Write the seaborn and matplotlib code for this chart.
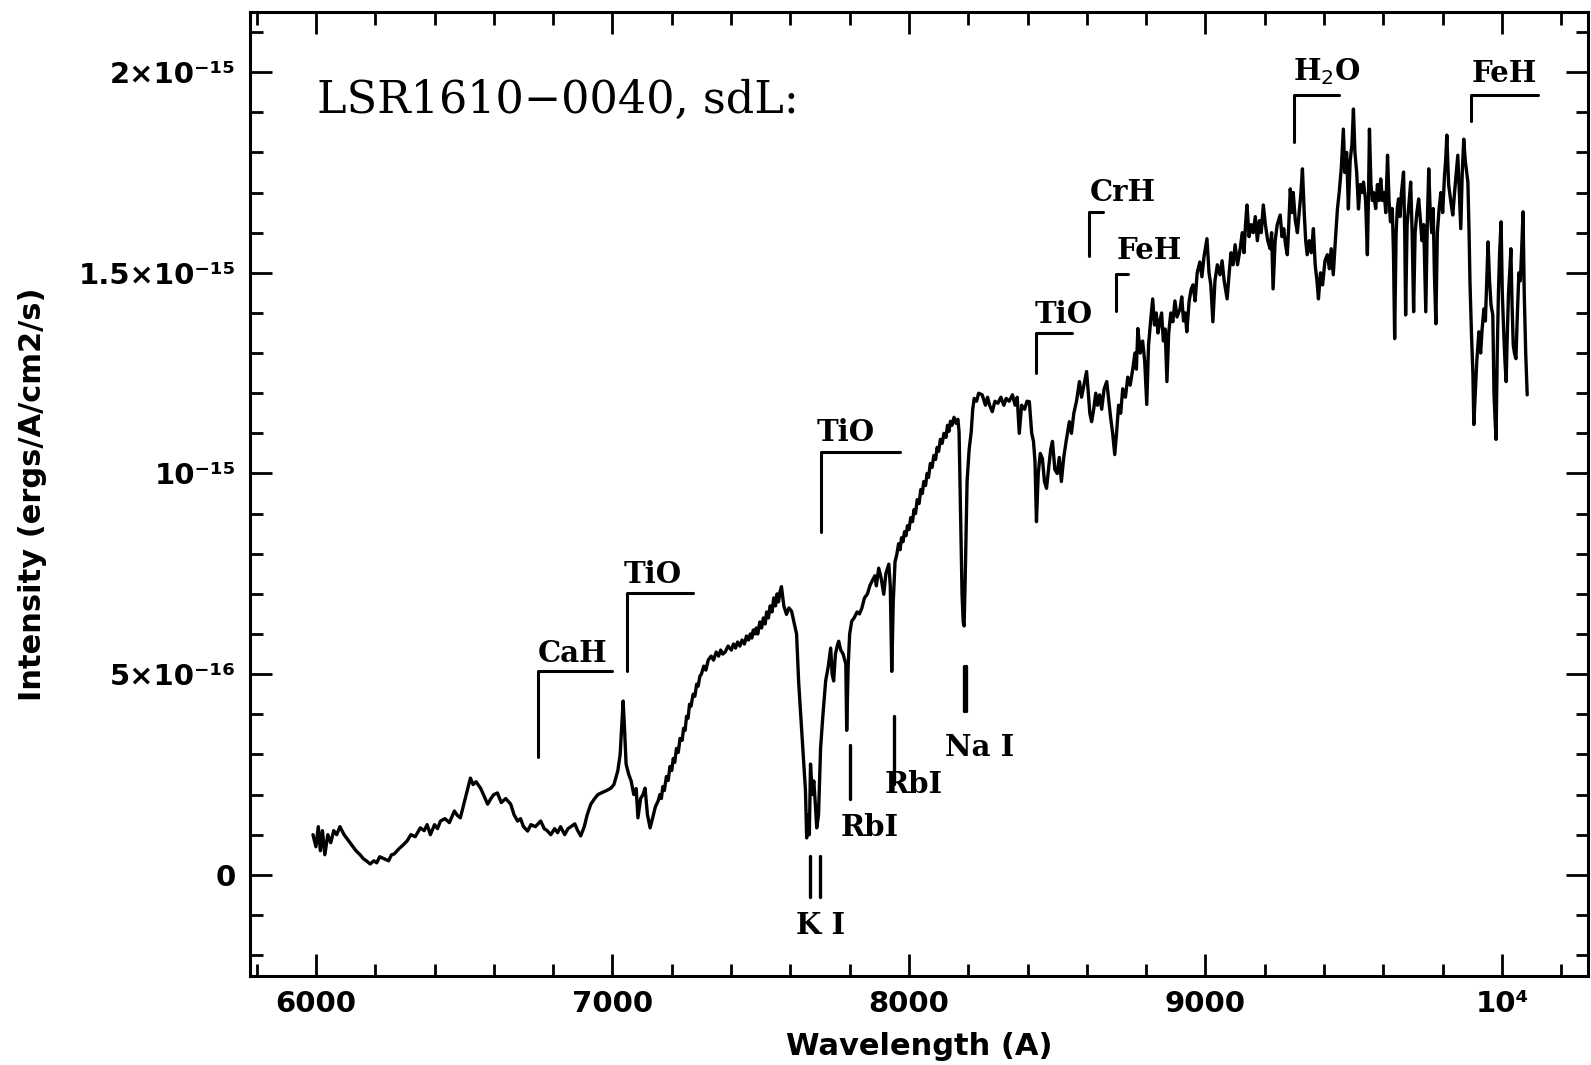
import matplotlib
matplotlib.use("Agg")
import matplotlib.pyplot as plt
import numpy as np
import pandas as pd
import seaborn as sns

# spectrum, flux in units of 1e-15 ergs/A/cm2/s
# blue end, 5990-7150 A
wl_a = [
    5990, 6000, 6008, 6015, 6022, 6030, 6040, 6050, 6060, 6070,
    6081, 6095, 6105, 6115, 6125, 6135, 6149, 6160, 6170, 6183,
    6195, 6205, 6215, 6230, 6245, 6255, 6264, 6280, 6295, 6308,
    6320, 6335, 6352, 6365, 6375, 6386, 6400, 6410, 6420, 6435,
    6450, 6467, 6477, 6487, 6500, 6510, 6521, 6530, 6540, 6555,
    6565, 6579, 6590, 6600, 6612, 6625, 6640, 6657, 6668, 6680,
    6690, 6700, 6714, 6725, 6740, 6758, 6770, 6780, 6792, 6805,
    6815, 6825, 6839, 6850, 6860, 6873, 6883, 6893, 6905, 6915,
    6927, 6940, 6951, 6965, 6980, 6995, 7005, 7018, 7026, 7032,
    7036, 7041, 7046, 7055, 7063, 7072, 7080, 7086, 7095, 7103,
    7110, 7118, 7127, 7135, 7145,
]
flux_a = [
    0.10, 0.07, 0.12, 0.06, 0.11, 0.05, 0.10, 0.08, 0.11, 0.10,
    0.12, 0.10, 0.09, 0.08, 0.07, 0.06, 0.05, 0.04, 0.035, 0.027,
    0.035, 0.03, 0.045, 0.04, 0.035, 0.05, 0.052, 0.065, 0.075, 0.085,
    0.10, 0.095, 0.117, 0.11, 0.125, 0.10, 0.125, 0.115, 0.134, 0.14,
    0.13, 0.159, 0.148, 0.142, 0.18, 0.21, 0.241, 0.225, 0.232, 0.216,
    0.20, 0.176, 0.19, 0.20, 0.204, 0.18, 0.19, 0.176, 0.15, 0.134,
    0.14, 0.12, 0.109, 0.125, 0.12, 0.134, 0.115, 0.11, 0.10, 0.115,
    0.105, 0.12, 0.10, 0.115, 0.12, 0.127, 0.11, 0.097, 0.12, 0.15,
    0.176, 0.19, 0.20, 0.205, 0.21, 0.216, 0.225, 0.259, 0.30, 0.38,
    0.433, 0.36, 0.276, 0.25, 0.234, 0.20, 0.215, 0.142, 0.19, 0.20,
    0.216, 0.15, 0.117, 0.14, 0.17,
]

# 7150-8165 A: TiO, K I, Rb I
wl_b = [
    7154, 7160, 7165, 7170, 7175, 7182, 7188, 7194, 7200, 7205,
    7210, 7216, 7222, 7228, 7235, 7240, 7245, 7250, 7255, 7260,
    7265, 7272, 7278, 7284, 7289, 7295, 7300, 7308, 7315, 7323,
    7333, 7341, 7350, 7358, 7365, 7372, 7380, 7390, 7401, 7408,
    7415, 7422, 7430, 7437, 7445, 7452, 7459, 7465, 7470, 7475,
    7480, 7485, 7490, 7497, 7503, 7509, 7515, 7520, 7526, 7532,
    7538, 7544, 7550, 7555, 7560, 7565, 7570, 7578, 7587, 7595,
    7604, 7612, 7621, 7628, 7633, 7638, 7645, 7651, 7655, 7660,
    7664, 7668, 7674, 7679, 7684, 7689, 7695, 7702, 7710, 7719,
    7728, 7736, 7741, 7746, 7752, 7758, 7763, 7770, 7778, 7787,
    7790, 7795, 7800, 7807, 7815, 7825, 7833, 7841, 7850, 7860,
    7868, 7875, 7885, 7890, 7898, 7906, 7915, 7922, 7932, 7937,
    7942, 7947, 7953, 7959, 7965, 7970, 7975, 7980, 7985, 7990,
    7995, 8000, 8006, 8012, 8017, 8022, 8028, 8034, 8040, 8045,
    8050, 8056, 8061, 8066, 8072, 8078, 8084, 8090, 8095, 8100,
    8106, 8112, 8118, 8125, 8130, 8135, 8140, 8145, 8152, 8159,
    8165,
]
flux_b = [
    0.184, 0.20, 0.19, 0.22, 0.21, 0.245, 0.235, 0.27, 0.26, 0.29,
    0.28, 0.315, 0.305, 0.34, 0.335, 0.365, 0.36, 0.395, 0.39, 0.425,
    0.42, 0.45, 0.445, 0.475, 0.47, 0.495, 0.50, 0.52, 0.51, 0.535,
    0.545, 0.535, 0.555, 0.545, 0.56, 0.55, 0.555, 0.57, 0.56, 0.575,
    0.565, 0.58, 0.57, 0.585, 0.575, 0.595, 0.585, 0.60, 0.59, 0.61,
    0.60, 0.615, 0.60, 0.63, 0.615, 0.64, 0.625, 0.655, 0.64, 0.67,
    0.655, 0.69, 0.67, 0.70, 0.68, 0.705, 0.718, 0.67, 0.649, 0.665,
    0.657, 0.63, 0.60, 0.48, 0.42, 0.36, 0.28, 0.21, 0.092, 0.15,
    0.10, 0.276, 0.20, 0.234, 0.18, 0.117, 0.15, 0.316, 0.40, 0.483,
    0.52, 0.565, 0.50, 0.483, 0.55, 0.57, 0.582, 0.56, 0.55, 0.525,
    0.36, 0.52, 0.60, 0.632, 0.64, 0.655, 0.65, 0.664, 0.69, 0.70,
    0.72, 0.731, 0.745, 0.72, 0.764, 0.74, 0.699, 0.75, 0.774, 0.72,
    0.507, 0.68, 0.78, 0.798, 0.825, 0.81, 0.84, 0.83, 0.855, 0.845,
    0.87, 0.86, 0.89, 0.88, 0.91, 0.90, 0.935, 0.925, 0.96, 0.95,
    0.98, 0.97, 1.00, 0.99, 1.025, 1.015, 1.045, 1.035, 1.065, 1.055,
    1.085, 1.075, 1.10, 1.09, 1.12, 1.105, 1.13, 1.12, 1.14, 1.125,
    1.135,
]

# 8169-8995 A: Na I, TiO, CrH, FeH
wl_c = [
    8169, 8174, 8179, 8183, 8186, 8190, 8196, 8203, 8210, 8215,
    8220, 8228, 8235, 8247, 8258, 8265, 8272, 8281, 8290, 8300,
    8310, 8320, 8328, 8338, 8349, 8358, 8365, 8372, 8380, 8390,
    8398, 8406, 8414, 8420, 8425, 8430, 8436, 8443, 8450, 8457,
    8464, 8472, 8478, 8484, 8492, 8500, 8507, 8514, 8522, 8530,
    8541, 8548, 8556, 8565, 8575, 8582, 8590, 8599, 8605, 8610,
    8616, 8623, 8630, 8636, 8643, 8650, 8658, 8667, 8674, 8680,
    8687, 8694, 8700, 8707, 8714, 8721, 8730, 8738, 8746, 8755,
    8762, 8767, 8772, 8780, 8788, 8795, 8802, 8808, 8815, 8822,
    8828, 8834, 8840, 8846, 8852, 8858, 8864, 8870, 8876, 8883,
    8890, 8897, 8904, 8914, 8920, 8926, 8932, 8937, 8945, 8952,
    8958, 8965, 8972, 8981, 8988, 8995,
]
flux_c = [
    1.104, 0.90, 0.70, 0.63, 0.62, 0.75, 0.98, 1.06, 1.104, 1.16,
    1.187, 1.18, 1.20, 1.196, 1.17, 1.19, 1.17, 1.154, 1.18, 1.175,
    1.19, 1.17, 1.187, 1.18, 1.196, 1.17, 1.19, 1.10, 1.17, 1.16,
    1.18, 1.179, 1.10, 1.08, 1.03, 0.88, 1.00, 1.05, 1.037, 0.98,
    0.963, 1.02, 1.06, 1.08, 1.01, 1.00, 1.04, 0.98, 1.04, 1.08,
    1.129, 1.10, 1.15, 1.18, 1.229, 1.19, 1.22, 1.254, 1.20, 1.15,
    1.129, 1.16, 1.20, 1.17, 1.196, 1.16, 1.21, 1.229, 1.18, 1.14,
    1.10, 1.047, 1.10, 1.17, 1.15, 1.211, 1.19, 1.24, 1.22, 1.261,
    1.30, 1.26, 1.361, 1.30, 1.33, 1.28, 1.172, 1.32, 1.38, 1.435,
    1.37, 1.40, 1.35, 1.378, 1.40, 1.33, 1.36, 1.229, 1.35, 1.40,
    1.378, 1.43, 1.39, 1.41, 1.44, 1.38, 1.40, 1.353, 1.43, 1.46,
    1.47, 1.43, 1.50, 1.527, 1.49, 1.54,
]

# 9005-9499 A: H2O band
wl_d = [
    9005, 9012, 9018, 9025, 9032, 9040, 9049, 9056, 9063, 9073,
    9080, 9086, 9093, 9100, 9108, 9117, 9124, 9130, 9135, 9140,
    9147, 9154, 9161, 9168, 9175, 9182, 9188, 9195, 9202, 9210,
    9218, 9223, 9228, 9235, 9242, 9252, 9258, 9264, 9270, 9276,
    9281, 9286, 9292, 9296, 9303, 9310, 9317, 9322, 9327, 9333,
    9338, 9343, 9350, 9357, 9364, 9370, 9376, 9381, 9388, 9395,
    9403, 9411, 9418, 9424, 9431, 9438, 9445, 9451, 9458, 9465,
    9470, 9476, 9482, 9488, 9494, 9499,
]
flux_d = [
    1.585, 1.50, 1.47, 1.378, 1.48, 1.52, 1.495, 1.53, 1.48, 1.435,
    1.50, 1.55, 1.52, 1.57, 1.52, 1.56, 1.60, 1.55, 1.62, 1.669,
    1.59, 1.62, 1.60, 1.64, 1.58, 1.63, 1.60, 1.669, 1.62, 1.58,
    1.56, 1.60, 1.46, 1.58, 1.62, 1.644, 1.59, 1.61, 1.57, 1.545,
    1.62, 1.709, 1.65, 1.70, 1.63, 1.60, 1.66, 1.70, 1.759, 1.65,
    1.58, 1.545, 1.58, 1.55, 1.61, 1.52, 1.48, 1.435, 1.50, 1.47,
    1.53, 1.545, 1.51, 1.56, 1.495, 1.58, 1.659, 1.70, 1.76, 1.858,
    1.75, 1.80, 1.659, 1.78, 1.82, 1.908,
]

# 9504-10085 A: red end, FeH
wl_e = [
    9504, 9510, 9516, 9522, 9528, 9533, 9540, 9546, 9550, 9553,
    9558, 9563, 9567, 9574, 9580, 9586, 9591, 9597, 9603, 9608,
    9614, 9619, 9624, 9630, 9634, 9638, 9643, 9647, 9651, 9656,
    9661, 9668, 9672, 9675, 9680, 9686, 9692, 9697, 9702, 9707,
    9713, 9719, 9725, 9730, 9736, 9740, 9743, 9748, 9753, 9758,
    9763, 9768, 9772, 9777, 9782, 9788, 9794, 9800, 9806, 9810,
    9814, 9820, 9827, 9834, 9840, 9846, 9851, 9856, 9861, 9866,
    9871, 9876, 9881, 9885, 9889, 9892, 9897, 9902, 9905, 9910,
    9915, 9922, 9928, 9933, 9939, 9944, 9948, 9953, 9958, 9963,
    9969, 9973, 9977, 9980, 9984, 9988, 9992, 9997, 10001, 10006,
    10010, 10014, 10018, 10022, 10026, 10030, 10034, 10038, 10042, 10047,
    10052, 10057, 10062, 10066, 10071, 10075, 10080, 10085,
]
flux_e = [
    1.80, 1.75, 1.659, 1.72, 1.70, 1.726, 1.68, 1.545, 1.70, 1.858,
    1.72, 1.68, 1.70, 1.66, 1.72, 1.68, 1.734, 1.68, 1.70, 1.65,
    1.793, 1.68, 1.627, 1.66, 1.55, 1.336, 1.60, 1.66, 1.684, 1.64,
    1.70, 1.751, 1.60, 1.395, 1.62, 1.67, 1.726, 1.60, 1.403, 1.60,
    1.65, 1.684, 1.63, 1.58, 1.62, 1.50, 1.403, 1.62, 1.759, 1.65,
    1.60, 1.66, 1.50, 1.373, 1.60, 1.66, 1.70, 1.65, 1.74, 1.78,
    1.843, 1.72, 1.68, 1.644, 1.70, 1.75, 1.793, 1.70, 1.61, 1.75,
    1.833, 1.78, 1.75, 1.726, 1.60, 1.478, 1.35, 1.246, 1.122, 1.20,
    1.28, 1.353, 1.30, 1.36, 1.41, 1.38, 1.47, 1.577, 1.48, 1.42,
    1.395, 1.20, 1.13, 1.085, 1.30, 1.45, 1.55, 1.627, 1.45, 1.35,
    1.28, 1.229, 1.35, 1.45, 1.50, 1.56, 1.42, 1.32, 1.30, 1.286,
    1.40, 1.50, 1.48, 1.55, 1.652, 1.45, 1.30, 1.196,
]

# molecular band heads: bracket start, end and label
band_names = ["CaH", "TiO", "TiO", "TiO", "CrH", "FeH", "H$_2$O", "FeH"]
band_start = [6748, 7050, 7702, 8430, 8606, 8697, 9299, 9895]
band_end = [6998, 7272, 7970, 8550, 8653, 8738, 9452, 10122]
band_top = [0.508, 0.702, 1.053, 1.349, 1.652, 1.498, 1.942, 1.942]
band_bottom = [0.294, 0.508, 0.853, 1.250, 1.543, 1.404, 1.826, 1.878]
band_label_x = [6864, 7137, 7787, 8521, 8720, 8810, 9410, 10007]
band_label_y = [0.552, 0.748, 1.102, 1.397, 1.701, 1.556, 2.002, 1.997]

# atomic lines below the spectrum
line_names = ["K I", "RbI", "RbI", "Na I"]
line_waves = [[7665, 7699], [7800], [7948], [8184, 8193]]
line_top = [0.047, 0.323, 0.395, 0.520]
line_bottom = [-0.055, 0.190, 0.226, 0.408]
line_label_x = [7702, 7868, 8017, 8240]
line_label_y = [-0.127, 0.117, 0.224, 0.318]

ytick_vals = [0, 0.5, 1.0, 1.5, 2.0]
ytick_labels = ["0", "5×10⁻¹⁶", "10⁻¹⁵", "1.5×10⁻¹⁵", "2×10⁻¹⁵"]
xtick_vals = [6000, 7000, 8000, 9000, 10000]
xtick_labels = ["6000", "7000", "8000", "9000", "10⁴"]

scale = 1e-15
df = pd.DataFrame({
    "wavelength": wl_a + wl_b + wl_c + wl_d + wl_e,
    "flux": np.array(flux_a + flux_b + flux_c + flux_d + flux_e) * scale,
})

sns.set_style("ticks")
plt.rcParams["font.family"] = ["DejaVu Sans"]
plt.rcParams["text.color"] = "black"
plt.rcParams["axes.labelcolor"] = "black"
plt.rcParams["xtick.color"] = "black"
plt.rcParams["ytick.color"] = "black"

fig = plt.figure(figsize=(15.91, 10.65), dpi=100)
ax = fig.add_axes([0.1572, 0.0836, 0.8409, 0.9052])

sns.lineplot(
    data=df,
    x="wavelength",
    y="flux",
    color="black",
    linewidth=2.4,
    estimator=None,
    sort=False,
    ax=ax
)

serif = dict(family="DejaVu Serif", fontweight="bold", fontsize=21)

for i, name in enumerate(band_names):
    ax.plot(
        [band_start[i], band_start[i], band_end[i]],
        [band_bottom[i] * scale, band_top[i] * scale, band_top[i] * scale],
        color="black",
        linewidth=2.2
    )
    ax.text(
        band_label_x[i], band_label_y[i] * scale, name,
        ha="center", va="center", **serif
    )

for i, name in enumerate(line_names):
    for w in line_waves[i]:
        ax.plot(
            [w, w],
            [line_bottom[i] * scale, line_top[i] * scale],
            color="black",
            linewidth=2.4
        )
    ax.text(
        line_label_x[i], line_label_y[i] * scale, name,
        ha="center", va="center", **serif
    )

ax.text(
    6003, 1.93 * scale, "LSR1610\u22120040, sdL:",
    ha="left", va="center",
    family="DejaVu Serif", fontsize=32
)

ax.set_xlim(5778, 10290)
ax.set_ylim(-0.252 * scale, 2.15 * scale)

ax.set_xticks(xtick_vals, xtick_labels)
ax.set_yticks([v * scale for v in ytick_vals], ytick_labels)
ax.set_xticks(np.arange(5800, 10300, 200), minor=True)
ax.set_yticks(np.arange(-0.2, 2.15, 0.1) * scale, minor=True)

ax.tick_params(
    which="both", direction="in",
    top=True, right=True, width=2, color="black"
)
ax.tick_params(which="major", length=16, labelsize=21, pad=10)
ax.tick_params(which="minor", length=9)
for lab in ax.get_xticklabels() + ax.get_yticklabels():
    lab.set_fontweight("bold")

for side in ["left", "right", "top", "bottom"]:
    ax.spines[side].set_linewidth(2.2)
    ax.spines[side].set_color("black")

ax.set_xlabel("Wavelength (A)", fontsize=22, fontweight="bold")
ax.set_ylabel("Intensity (ergs/A/cm2/s)", fontsize=22, fontweight="bold")
ax.xaxis.set_label_coords(0.5, -0.058)
ax.yaxis.set_label_coords(-0.152, 0.5)

fig.savefig("out.png", dpi=100)
